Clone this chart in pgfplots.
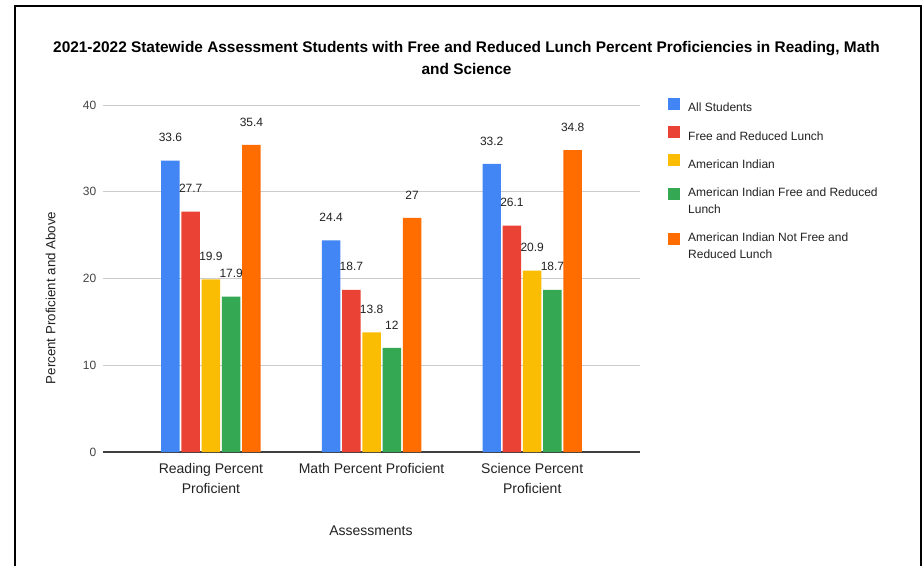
\documentclass[border=0pt]{standalone}
\usepackage{pgfplots}
\pgfplotsset{compat=1.18}
\usepackage{fontspec}
\setmainfont{Liberation Sans}
\definecolor{cBlue}{HTML}{4285F4}
\definecolor{cRed}{HTML}{EA4335}
\definecolor{cYellow}{HTML}{FBBC04}
\definecolor{cGreen}{HTML}{34A853}
\definecolor{cOrange}{HTML}{FF6D01}
\definecolor{txt}{HTML}{222222}
\definecolor{tick}{HTML}{444444}
\begin{document}
\begin{tikzpicture}[x=1pt,y=1pt]
\useasboundingbox (0,0) rectangle (693,-424.5);
\fill[white] (0,0) rectangle (693,-424.5);
\draw[black, line width=2pt] (11.25,-500) -- (11.25,-4.5) -- (690.75,-4.5) -- (690.75,-500);
\begin{axis}[
  at={(77.25pt,-339pt)}, anchor=south west,
  scale only axis, width=402.75pt, height=260.25pt,
  xmin=-0.672, xmax=2.671, ymin=0, ymax=40,
  ytick={0,10,20,30,40},
  xtick={0,1,2},
  xticklabels={{Reading Percent\\Proficient},{Math Percent Proficient},{Science Percent\\Proficient}},
  /pgf/number format/assume math mode=true,
  axis line style={draw=none},
  major tick length=0pt,
  ymajorgrids,
  grid style={color=black!20, line width=0.75pt},
  extra y ticks={0}, extra y tick labels={},
  extra y tick style={grid=major, major grid style={color=black!75, line width=1.1pt}},
  yticklabel style={font=\fontsize{9}{11}\selectfont, text=tick, xshift=-1.5pt},
  xticklabel style={font=\fontsize{10.5}{15}\selectfont, text=txt, align=center, yshift=-5pt},
  title={2021-2022 Statewide Assessment Students with Free and Reduced Lunch Percent Proficiencies in Reading, Math\\and Science},
  title style={font=\bfseries\fontsize{11.55}{16.5}\selectfont, text=black, align=center, at={(axis description cs:0.677,1.113)}, anchor=center},
  xlabel={Assessments},
  xlabel style={font=\fontsize{10.5}{13}\selectfont, text=txt, at={(axis description cs:0.499,-0.228)}, anchor=center},
  ylabel={Percent Proficient and Above},
  ylabel style={font=\fontsize{10}{12}\selectfont, text=txt, at={(axis description cs:-0.0974,0.444)}, anchor=center},
  ybar, bar width=0.115,
  every axis plot post/.append style={legend image code/.code={\fill[##1] (0pt,-1pt) rectangle (9pt,8pt);}},
  nodes near coords,
  nodes near coords style={font=\fontsize{9}{11}\selectfont, text=txt, anchor=south, yshift=10.5pt},
  legend style={at={(axis description cs:1.052,1.021)}, anchor=north west, draw=none, fill=none, inner sep=0pt, row sep=9.1pt, column sep=6pt,
    nodes={inner sep=0pt, align=left, font=\fontsize{9}{12.75}\selectfont, text=txt}},
  legend cell align=left,
]
\addplot[fill=cBlue, draw=none, bar shift=-0.252] coordinates {(0,33.6) (1,24.4) (2,33.2)};
\addlegendentry{All Students}
\addplot[fill=cRed, draw=none, bar shift=-0.126] coordinates {(0,27.7) (1,18.7) (2,26.1)};
\addlegendentry{Free and Reduced Lunch}
\addplot[fill=cYellow, draw=none, bar shift=0] coordinates {(0,19.9) (1,13.8) (2,20.9)};
\addlegendentry{American Indian}
\addplot[fill=cGreen, draw=none, bar shift=0.126] coordinates {(0,17.9) (1,12) (2,18.7)};
\addlegendentry{\rule{0pt}{10.25pt}American Indian Free and Reduced\\Lunch}
\addplot[fill=cOrange, draw=none, bar shift=0.252] coordinates {(0,35.4) (1,27) (2,34.8)};
\addlegendentry{\rule{0pt}{10.75pt}American Indian Not Free and\\Reduced Lunch}
\end{axis}
\end{tikzpicture}
\end{document}
